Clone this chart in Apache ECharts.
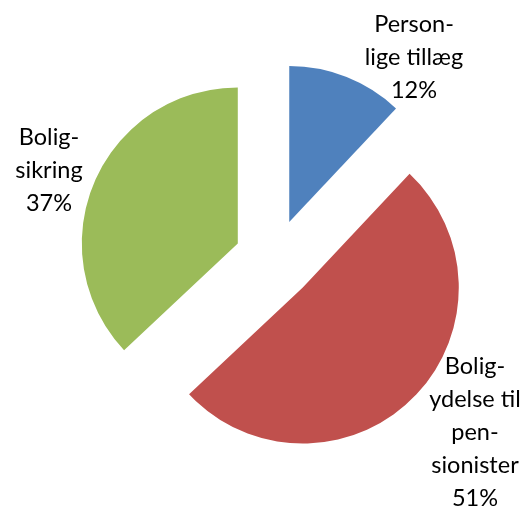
<!DOCTYPE html>
<html>
<head>
<meta charset="utf-8">
<script src="https://cdn.jsdelivr.net/npm/echarts@6/dist/echarts.min.js"></script>
<style>
html,body{margin:0;padding:0;background:#fff;}
#chart{width:526px;height:506px;}
</style>
</head>
<body>
<div id="chart"></div>
<script>
// Data
const categories = ['Person-\nlige tillæg', 'Bolig-\nydelse til\npen-\nsionister', 'Bolig-\nsikring'];
const values = [12, 51, 37];
const colors = ['#4F81BD', '#C0504D', '#9BBB59'];
// label anchor points (layout)
const labelPos = [[414, 57], [475, 432], [49, 170]];

const total = values.reduce((a, b) => a + b, 0);
const chart = echarts.init(document.getElementById('chart'), null, {renderer: 'canvas'});
const data = categories.map((c, i) => ({
  name: c,
  value: values[i],
  selected: true,
  itemStyle: {color: colors[i]},
  select: {itemStyle: {color: colors[i]}}
}));
const labels = categories.map((c, i) => ({
  type: 'text',
  x: labelPos[i][0],
  y: labelPos[i][1],
  silent: true,
  style: {
    text: c + '\n' + Math.round(values[i] / total * 100) + '%',
    fontFamily: 'Lato',
    fontSize: 23.5,
    lineHeight: 33,
    fill: '#000',
    textAlign: 'center',
    textVerticalAlign: 'middle'
  }
}));
chart.setOption({
  animation: false,
  graphic: labels,
  series: [{
    type: 'pie',
    center: [274.5, 259.3],
    radius: 156,
    startAngle: 90,
    clockwise: true,
    selectedMode: 'multiple',
    selectedOffset: 40,
    silent: true,
    data: data,
    label: {show: false},
    labelLine: {show: false}
  }]
});
</script>
</body>
</html>
